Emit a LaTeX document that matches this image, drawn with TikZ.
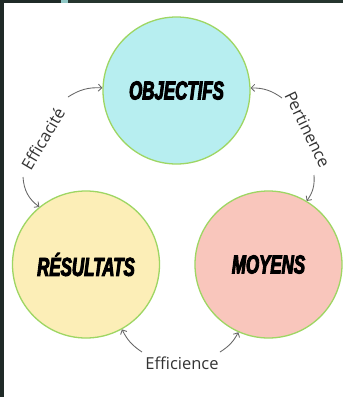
\documentclass[tikz,border=0pt]{standalone}
\usepackage{fontspec}
\setmainfont{Open Sans}
\newfontfamily\titlefont[FakeStretch=0.65,FakeBold=3.5]{Liberation Sans}
\usetikzlibrary{arrows.meta}
\definecolor{objfill}{HTML}{B7EEF0}
\definecolor{resfill}{HTML}{FCEEB7}
\definecolor{moyfill}{HTML}{F9C6BC}
\definecolor{ringgreen}{HTML}{9ED663}
\definecolor{framedark}{HTML}{1F2A27}
\definecolor{frametop}{HTML}{26352F}
\definecolor{frameteal}{HTML}{8FC7C5}
\definecolor{arrowgray}{HTML}{666666}
\definecolor{labelgray}{HTML}{333333}
\begin{document}
\begin{tikzpicture}[x=1pt,y=-1pt,
  bubble/.style={circle,draw=ringgreen,line width=1.3pt,minimum size=147pt,inner sep=0pt,
    font=\titlefont\bfseries\itshape\fontsize{26}{26}\selectfont},
  lbl/.style={text=labelgray,inner sep=0pt,font=\fontsize{16.5}{18}\selectfont},
  link/.style={draw=arrowgray,line width=0.85pt,-{Straight Barb[length=3.5pt,width=7pt]}}]
\useasboundingbox (0,0) rectangle (343,397);
\fill[white] (0,0) rectangle (343,397);
\fill[framedark] (0,0) rectangle (3.8,397);
\fill[frametop] (0,0) rectangle (343,3.4);
\fill[framedark] (0,0) rectangle (61,3.4);
\fill[frameteal] (61,0) rectangle (68,3.4);
% circles
\node[bubble,fill=objfill] (obj) at (176.5,90.5) {OBJECTIFS};
\node[bubble,fill=resfill] (res) at (86,264.5) {RÉSULTATS};
\node[bubble,fill=moyfill] (moy) at (268.5,264.5) {MOYENS};
% labels
\node[lbl,rotate=59.5] (eff) at (43,139) {Efficacité};
\node[lbl,rotate=-64] (per) at (307.5,129.5) {Pertinence};
\node[lbl] (ece) at (182,363) {Efficience};
% arrow start points
\coordinate (effa) at (68,97);
\coordinate (effb) at (23,177);
\coordinate (pera) at (282,98);
\coordinate (perb) at (314,175);
\coordinate (ecea) at (142,352);
\coordinate (eceb) at (220,352);
% arrows
\draw[link] (effa) to[bend left=18] (obj.178);
\draw[link] (effb) to[bend right=25] (res.129);
\draw[link] (pera) to[bend right=18] (obj.2);
\draw[link] (perb) to[bend left=20] (moy.59);
\draw[link] (ecea) to[bend left=15] (res.-61);
\draw[link] (eceb) to[bend right=15] (moy.-114);
\end{tikzpicture}
\end{document}
